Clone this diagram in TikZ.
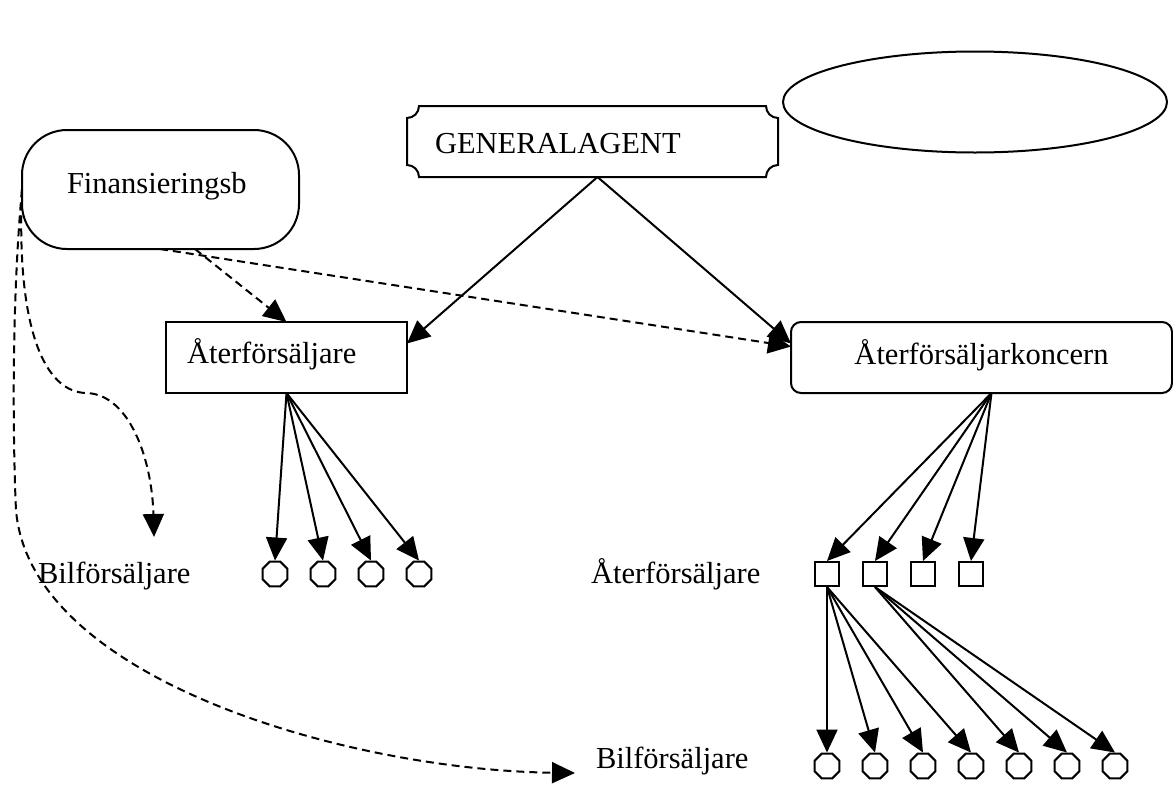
\documentclass[tikz,border=0pt]{standalone}
\usepackage{fontspec}
\setmainfont{Liberation Serif}
\usetikzlibrary{arrows.meta, shapes.geometric}

\begin{document}
\begin{tikzpicture}[x=1pt, y=1pt, line width=2pt, font=\fontsize{30.5}{36}\selectfont]
\tikzset{
  tip/.style={-{Triangle[length=23pt,width=21pt]}},
  dashtip/.style={tip, dash pattern=on 8pt off 5pt},
  box/.style={anchor=north west, inner ysep=0pt, outer sep=0pt, align=left},
  octa/.style={draw, regular polygon, regular polygon sides=8, minimum size=27pt, inner sep=0pt},
  sqr/.style={draw, rectangle, minimum size=24pt, inner sep=0pt},
  lbl/.style={anchor=base west, inner sep=0pt}
}
\useasboundingbox (0,0) rectangle (1173,-785);

\coordinate (bilc) at (154,-537);
\coordinate (atc) at (575,-773);

\node[draw, ellipse, minimum width=384pt, minimum height=101pt] (ov) at (975,-102) {};

\node[box, inner xsep=28pt, text width=315pt, text height=47pt, text depth=24pt] (ga) at (407,-106) {GENERALAGENT};
\draw ([xshift=12pt]ga.north west) -- ([xshift=-12pt]ga.north east)
  arc[start angle=180, end angle=270, radius=12pt] -- ([yshift=12pt]ga.south east)
  arc[start angle=90, end angle=180, radius=12pt] -- ([xshift=12pt]ga.south west)
  arc[start angle=0, end angle=90, radius=12pt] -- ([yshift=-12pt]ga.north west)
  arc[start angle=270, end angle=360, radius=12pt] -- cycle;

\node[box, draw, rounded corners=45pt, inner xsep=45pt, text width=187pt, text height=63pt, text depth=56pt] (fin) at (22,-130) {Finansieringsb};
\node[box, draw, inner xsep=21pt, text width=199pt, text height=41pt, text depth=30pt] (af) at (166,-322) {Återförsäljare};
\node[box, draw, rounded corners=10pt, inner xsep=0pt, text width=381pt, text height=42pt, text depth=29pt, align=center] (ak) at (791,-322) {Återförsäljarkoncern};

\node[octa] (b1) at (275,-574) {};
\node[octa] (b2) at (323,-574) {};
\node[octa] (b3) at (371,-574) {};
\node[octa] (b4) at (419,-574) {};

\node[sqr] (r1) at (827,-574) {};
\node[sqr] (r2) at (875,-574) {};
\node[sqr] (r3) at (923,-574) {};
\node[sqr] (r4) at (971,-574) {};

\node[octa] (s1) at (827,-766) {};
\node[octa] (s2) at (875,-766) {};
\node[octa] (s3) at (923,-766) {};
\node[octa] (s4) at (971,-766) {};
\node[octa] (s5) at (1019,-766) {};
\node[octa] (s6) at (1067,-766) {};
\node[octa] (s7) at (1115,-766) {};

\node[lbl] (bil1) at (37,-583) {Bilförsäljare};
\node[lbl] (ater) at (590,-583) {Återförsäljare};
\node[lbl] (bil2) at (595,-768) {Bilförsäljare};

\draw[tip] ([xshift=5pt]ga.south) -- ([yshift=14pt]af.east);
\draw[tip] ([xshift=5pt]ga.south) -- ([yshift=14pt]ak.west);

\draw[dashtip] ([xshift=138pt]fin.south west) -- ([yshift=11pt]ak.west);
\draw[dashtip] ([xshift=173pt]fin.south west) -- (af.north);
\draw[dashtip] (fin.west) .. controls (16,-330) and (45,-393) .. (87,-393)
  .. controls (130,-395) and (152,-460) .. (bilc);
\draw[dashtip] (fin.west) .. controls (10,-320) and (14,-470) .. (16,-510)
  .. controls (30,-680) and (350,-770) .. (atc);

\draw[tip] (af.south) -- (b1.north);
\draw[tip] (af.south) -- (b2.north);
\draw[tip] (af.south) -- (b3.north);
\draw[tip] (af.south) -- (b4.north);

\draw[tip] ([xshift=10pt]ak.south) -- (r1.north);
\draw[tip] ([xshift=10pt]ak.south) -- (r2.north);
\draw[tip] ([xshift=10pt]ak.south) -- (r3.north);
\draw[tip] ([xshift=10pt]ak.south) -- (r4.north);

\draw[tip] (r1.south) -- (s1.north);
\draw[tip] (r1.south) -- (s2.north);
\draw[tip] (r1.south) -- (s3.north);
\draw[tip] (r1.south) -- (s4.north);
\draw[tip] (r2.south) -- (s5.north);
\draw[tip] (r2.south) -- (s6.north);
\draw[tip] (r2.south) -- (s7.north);
\end{tikzpicture}
\end{document}
